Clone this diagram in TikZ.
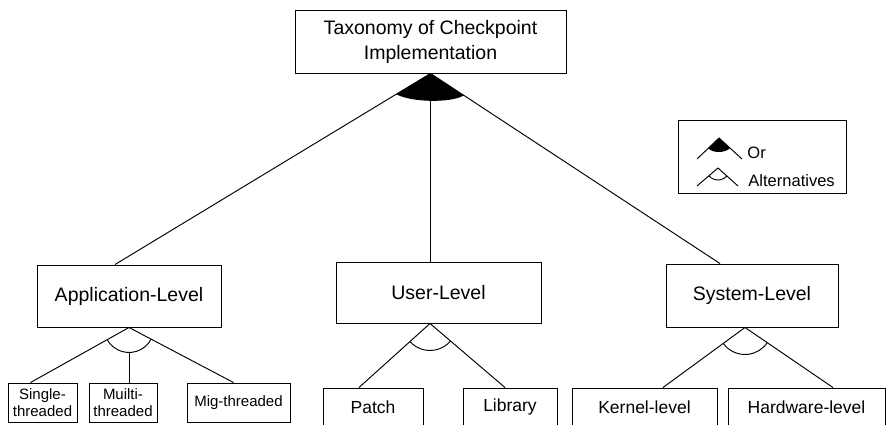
\documentclass[tikz,border=0pt]{standalone}
\usepackage{fontspec}
\setmainfont{Liberation Sans}
\usetikzlibrary{calc,angles}
\begin{document}
\begin{tikzpicture}[x=1pt,y=1pt, line width=0.95pt,
  box/.style={draw, inner sep=0pt, align=center},
  big/.style={font=\fontsize{19.5}{25}\selectfont},
  mid/.style={font=\fontsize{17.5}{20}\selectfont},
  small/.style={font=\fontsize{15}{17}\selectfont},
  leg/.style={font=\fontsize{16.5}{19}\selectfont, anchor=west, inner sep=0pt}
]
\clip (0,0) rectangle (887,-424);
\fill[white] (0,0) rectangle (887,-424);

% main boxes
\node[box,big,minimum width=271,minimum height=63] (top) at (430.5,-41.5) {Taxonomy of Checkpoint\\Implementation};
\node[box,big,minimum width=184,minimum height=62] (app) at (129,-296) {Application-Level};
\node[box,big,minimum width=205,minimum height=61] (user) at (438.5,-292.5) {User-Level};
\node[box,big,minimum width=172,minimum height=63] (sys) at (752,-295.5) {System-Level};

% leaf boxes
\node[box,small,minimum width=69,minimum height=39] (sgl) at (42.5,-402.5) {Single-\\threaded};
\node[box,small,minimum width=68,minimum height=39] (mul) at (123,-402.5) {Muilti-\\threaded};
\node[box,small,minimum width=103,minimum height=39] (mig) at (238.5,-402.5) {Mig-threaded};
\node[box,mid,minimum width=100,minimum height=38] (pat) at (373,-407) {Patch};
\node[box,mid,minimum width=94,minimum height=38] (lib) at (510,-407) {Library};
\node[box,mid,minimum width=145,minimum height=38] (ker) at (644.5,-407) {Kernel-level};
\node[box,mid,minimum width=157,minimum height=38] (hw) at (806.5,-407) {Hardware-level};

% top level connectors (Or group)
\coordinate (tA) at (top.south);
\coordinate (appT) at ([xshift=-14pt]app.north);
\coordinate (userT) at ([xshift=-8pt]user.north);
\coordinate (sysT) at ([xshift=-32pt]sys.north);
\draw (tA) -- (appT);
\draw (tA) -- (userT);
\draw (tA) -- (sysT);
\coordinate (orL) at ($(tA)!40pt!(appT)$);
\coordinate (orR) at ($(tA)!40pt!(sysT)$);
\fill (tA) -- (orL) .. controls ($(orL)+(14,-8)$) and ($(orR)+(-14,-8)$) .. (orR) -- cycle;

% application subtree (alternatives)
\coordinate (aA) at (app.south);
\coordinate (sglT) at ([xshift=-12pt]sgl.north);
\coordinate (mulT) at ([xshift=6pt]mul.north);
\coordinate (migT) at ([xshift=-5pt]mig.north);
\draw (aA) -- (sglT);
\draw (aA) -- (migT);
\draw ([yshift=-25pt]aA) -- (mulT);
\pic[draw, angle radius=25pt] {angle = sglT--aA--migT};

% user subtree
\coordinate (uA) at ([xshift=-8.5pt]user.south);
\coordinate (patT) at ([xshift=-14pt]pat.north);
\coordinate (libT) at ([xshift=-5pt]lib.north);
\draw (uA) -- (patT);
\draw (uA) -- (libT);
\pic[draw, angle radius=27pt] {angle = patT--uA--libT};

% system subtree
\coordinate (sA) at ([xshift=-7pt]sys.south);
\coordinate (kerT) at ([xshift=18.5pt]ker.north);
\coordinate (hwT) at ([xshift=26.5pt]hw.north);
\draw (sA) -- (kerT);
\draw (sA) -- (hwT);
\pic[draw, angle radius=27pt] {angle = kerT--sA--hwT};

% legend
\node[draw, inner sep=0pt, minimum width=168, minimum height=73] (legbox) at (762,-156.5) {};
\coordinate (loA) at (719,-138);
\coordinate (loL) at (697,-159);
\coordinate (loR) at (742,-159);
\draw (loL) -- (loA) -- (loR);
\coordinate (loP) at ($(loA)!15pt!(loL)$);
\coordinate (loQ) at ($(loA)!15pt!(loR)$);
\fill (loA) -- (loP) .. controls ($(loP)+(5,-5)$) and ($(loQ)+(-5,-5)$) .. (loQ) -- cycle;
\node[leg] (orT) at (747,-153) {Or};
\coordinate (laA) at (718,-168);
\coordinate (laL) at (697,-186);
\coordinate (laR) at (738,-186);
\draw (laL) -- (laA) -- (laR);
\pic[draw, angle radius=12pt] {angle = laL--laA--laR};
\node[leg] (altT) at (748,-181) {Alternatives};
\end{tikzpicture}
\end{document}
